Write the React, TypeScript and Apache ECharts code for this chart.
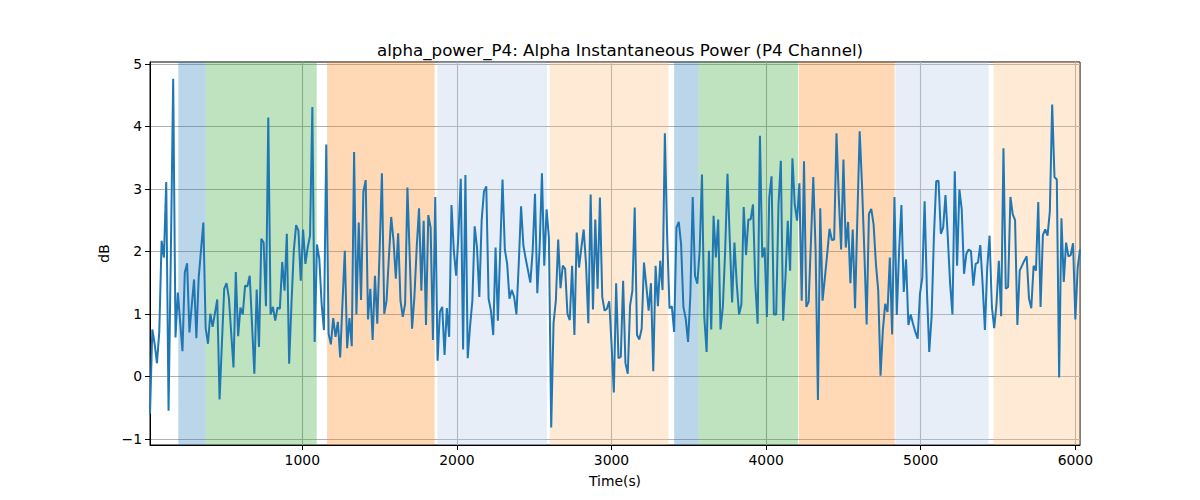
import React, { useEffect, useRef } from "react";
import * as echarts from "echarts";

// Sampling of the time axis (seconds): first sample and step between samples
const SAMPLE_START = 15;
const SAMPLE_STEP = 15;

// Alpha instantaneous power (dB), one value per sample
const alphaPowerDb = [
  -0.6, 0.75, 0.52, 0.21, 0.71, 2.17, 1.9, 3.11, -0.55, 2.0,
  4.76, 0.62, 1.34, 0.87, 0.4, 1.66, 1.81, 0.7, 1.13, 1.55,
  0.61, 1.58, 2.02, 2.46, 0.77, 0.52, 1.0, 0.79, 1.01, 1.23,
  -0.37, 0.52, 1.4, 1.49, 1.26, 0.7, 0.14, 1.67, 0.64, 1.1,
  0.99, 1.45, 1.44, 1.61, 0.82, 0.04, 1.39, 0.47, 2.2, 2.14,
  1.12, 4.14, 0.99, 1.11, 0.89, 1.1, 1.08, 1.83, 1.37, 2.28,
  0.2, 1.16, 2.01, 2.42, 2.33, 1.53, 2.35, 1.8, 2.06, 2.25,
  4.31, 0.55, 2.11, 1.88, 1.16, 0.74, 3.71, 0.68, 0.51, 0.93,
  0.63, 0.87, 0.3, 1.18, 2.01, 0.45, 0.93, 0.48, 3.59, 0.99,
  2.46, 1.22, 2.95, 3.14, 0.91, 1.4, 0.58, 1.61, 0.84, 2.0,
  3.25, 1.0, 1.21, 1.9, 2.55, 2.17, 1.56, 2.29, 1.21, 0.95,
  1.16, 3.02, 1.9, 0.76, 1.27, 2.06, 2.69, 1.37, 2.49, 0.82,
  2.58, 2.38, 0.58, 2.87, 0.25, 1.03, 1.11, 0.34, 1.09, 0.63,
  2.74, 2.01, 1.61, 2.27, 3.16, 0.43, 3.22, 0.29, 0.8, 1.21,
  2.4, 2.06, 1.27, 2.49, 2.96, 3.04, 1.24, 1.05, 0.66, 2.06,
  0.89, 2.01, 3.15, 2.03, 1.8, 1.24, 1.38, 1.27, 0.99, 1.8,
  2.72, 2.09, 1.88, 1.69, 1.5, 2.01, 2.92, 1.33, 2.06, 3.25,
  1.77, 2.67, 2.22, -0.82, 0.85, 1.21, 2.19, 1.41, 1.77, 1.72,
  1.0, 0.9, 1.77, 0.66, 2.3, 1.74, 2.06, 2.35, 1.8, 0.85,
  2.91, 1.07, 2.51, 1.4, 2.86, 1.27, 1.05, 1.08, 1.2, 0.52,
  -0.26, 1.49, 0.29, 0.31, 1.53, 0.21, 0.04, 1.13, 1.37, 2.7,
  0.66, 0.59, 0.76, 1.82, 1.45, 1.05, 1.49, 0.08, 1.77, 1.12,
  1.85, 1.38, 3.89, 2.22, 1.09, 1.12, 0.71, 2.38, 2.47, 2.11,
  1.11, 0.92, 0.55, 1.3, 2.87, 1.61, 1.48, 2.01, 3.23, 0.95,
  0.39, 2.01, 0.75, 2.57, 1.9, 2.51, 0.75, 1.11, 2.01, 3.24,
  2.17, 1.18, 2.14, 1.48, 0.99, 1.15, 2.71, 1.94, 2.51, 2.51,
  2.75, 1.48, 0.84, 3.85, 1.9, 2.06, 0.95, 2.86, 3.2, 0.99,
  0.99, 2.75, 3.45, 0.89, 1.58, 2.49, 1.69, 3.49, 2.75, 2.49,
  3.09, 1.21, 3.44, 1.11, 1.19, 2.17, 3.19, 2.01, -0.38, 2.69,
  1.21, 1.58, 1.96, 2.36, 2.18, 2.19, 3.89, 2.86, 2.03, 3.47,
  2.06, 2.47, 1.49, 2.35, 1.09, 2.54, 3.92, 3.07, 2.01, 0.83,
  2.6, 2.68, 2.43, 1.8, 1.37, 0.01, 0.74, 1.16, 1.03, 1.9,
  0.67, 2.87, 0.98, 2.01, 2.74, 1.35, 1.87, 0.82, 0.99, 0.84,
  0.71, 0.6, 1.32, 1.58, 2.8, 1.37, 0.39, 0.95, 2.22, 3.12,
  3.13, 2.28, 2.38, 2.9, 2.22, 1.48, 0.99, 3.28, 1.77, 2.99,
  2.67, 1.64, 1.96, 2.03, 2.0, 1.45, 1.8, 1.82, 2.1, 1.48,
  0.74, 1.74, 2.25, 1.11, 0.77, 1.16, 1.85, 0.96, 3.65, 1.4,
  1.43, 2.87, 2.59, 2.5, 0.82, 1.69, 1.77, 1.85, 1.92, 1.25,
  1.09, 1.77, 1.69, 2.79, 1.11, 2.26, 2.35, 2.25, 2.64, 4.35,
  3.19, 3.15, -0.02, 2.53, 1.51, 2.14, 1.92, 1.94, 2.13, 0.91,
  1.74, 2.03,
];

// Shaded stage spans (seconds)
const spanStarts = [198, 375, 1160, 1873, 2601, 3405, 3564, 4211, 4836, 5471];
const spanEnds = [375, 1093, 1856, 2582, 3368, 3564, 4206, 4831, 5439, 6030];
const spanColors = [
  "#1f77b4", "#2ca02c", "#ff7f0e", "#aec7e8", "#ffbb78",
  "#1f77b4", "#2ca02c", "#ff7f0e", "#aec7e8", "#ffbb78",
];

// Axis ticks
const xTicks = [1000, 2000, 3000, 4000, 5000, 6000];
const yTicks = [-1, 0, 1, 2, 3, 4, 5];
const X_MIN = 15;
const X_MAX = 6030;
const Y_MIN = -1.1;
const Y_MAX = 5.03;

const FONT = "DejaVu Sans";

export default function App() {
  const ref = useRef<HTMLDivElement>(null);

  useEffect(() => {
    if (!ref.current) return;
    const chart = echarts.init(ref.current, undefined, { renderer: "svg" });

    const seriesData = alphaPowerDb.map((v, i) => [SAMPLE_START + i * SAMPLE_STEP, v]);
    const areas = spanStarts.map((s, i) => [
      { xAxis: s, itemStyle: { color: spanColors[i], opacity: 0.3 } },
      { xAxis: spanEnds[i] },
    ]);

    const fmt = (v: number) => (v < 0 ? "\u2212" + Math.abs(v) : String(v));

    chart.setOption({
      animation: false,
      backgroundColor: "#ffffff",
      textStyle: { fontFamily: FONT },
      title: {
        text: "alpha_power_P4: Alpha Instantaneous Power (P4 Channel)",
        left: 615,
        top: 36,
        textAlign: "center",
        textStyle: { fontFamily: FONT, fontSize: 16.7, fontWeight: "normal", color: "#000" },
      },
      grid: {
        left: 150,
        right: 120,
        top: 62,
        bottom: 55,
        show: true,
        borderColor: "#000",
        borderWidth: 1,
        backgroundColor: "transparent",
      },
      xAxis: {
        type: "value",
        min: X_MIN,
        max: X_MAX,
        name: "Time(s)",
        nameLocation: "middle",
        nameGap: 29,
        nameTextStyle: { fontFamily: FONT, fontSize: 13.9, color: "#000" },
        axisLine: { show: true, onZero: false, lineStyle: { color: "#000", width: 1 } },
        axisTick: {
          show: true,
          inside: false,
          length: 5,
          customValues: xTicks,
          lineStyle: { color: "#000", width: 1 },
        },
        axisLabel: {
          customValues: xTicks,
          margin: 8,
          fontFamily: FONT,
          fontSize: 13.9,
          color: "#000",
          formatter: fmt,
        },
        splitLine: { show: true, lineStyle: { color: "#b0b0b0", width: 1.1 } },
      },
      yAxis: {
        type: "value",
        min: Y_MIN,
        max: Y_MAX,
        name: "dB",
        nameLocation: "middle",
        nameGap: 37,
        nameTextStyle: { fontFamily: FONT, fontSize: 13.9, color: "#000" },
        axisLine: { show: true, onZero: false, lineStyle: { color: "#000", width: 1 } },
        axisTick: {
          show: true,
          inside: false,
          length: 5,
          customValues: yTicks,
          lineStyle: { color: "#000", width: 1 },
        },
        axisLabel: {
          customValues: yTicks,
          margin: 8,
          fontFamily: FONT,
          fontSize: 13.9,
          color: "#000",
          formatter: fmt,
        },
        splitLine: { show: true, lineStyle: { color: "#b0b0b0", width: 1.1 } },
      },
      series: [
        {
          type: "line",
          data: seriesData,
          showSymbol: false,
          symbol: "none",
          clip: true,
          lineStyle: { color: "#1f77b4", width: 2 },
          itemStyle: { color: "#1f77b4" },
          z: 3,
          markArea: {
            silent: true,
            data: areas,
          },
        },
      ],
    });

    return () => {
      chart.dispose();
    };
  }, []);

  return (
    <div
      ref={ref}
      style={{ position: "absolute", left: 0, top: 0, width: 1200, height: 500 }}
    />
  );
}
